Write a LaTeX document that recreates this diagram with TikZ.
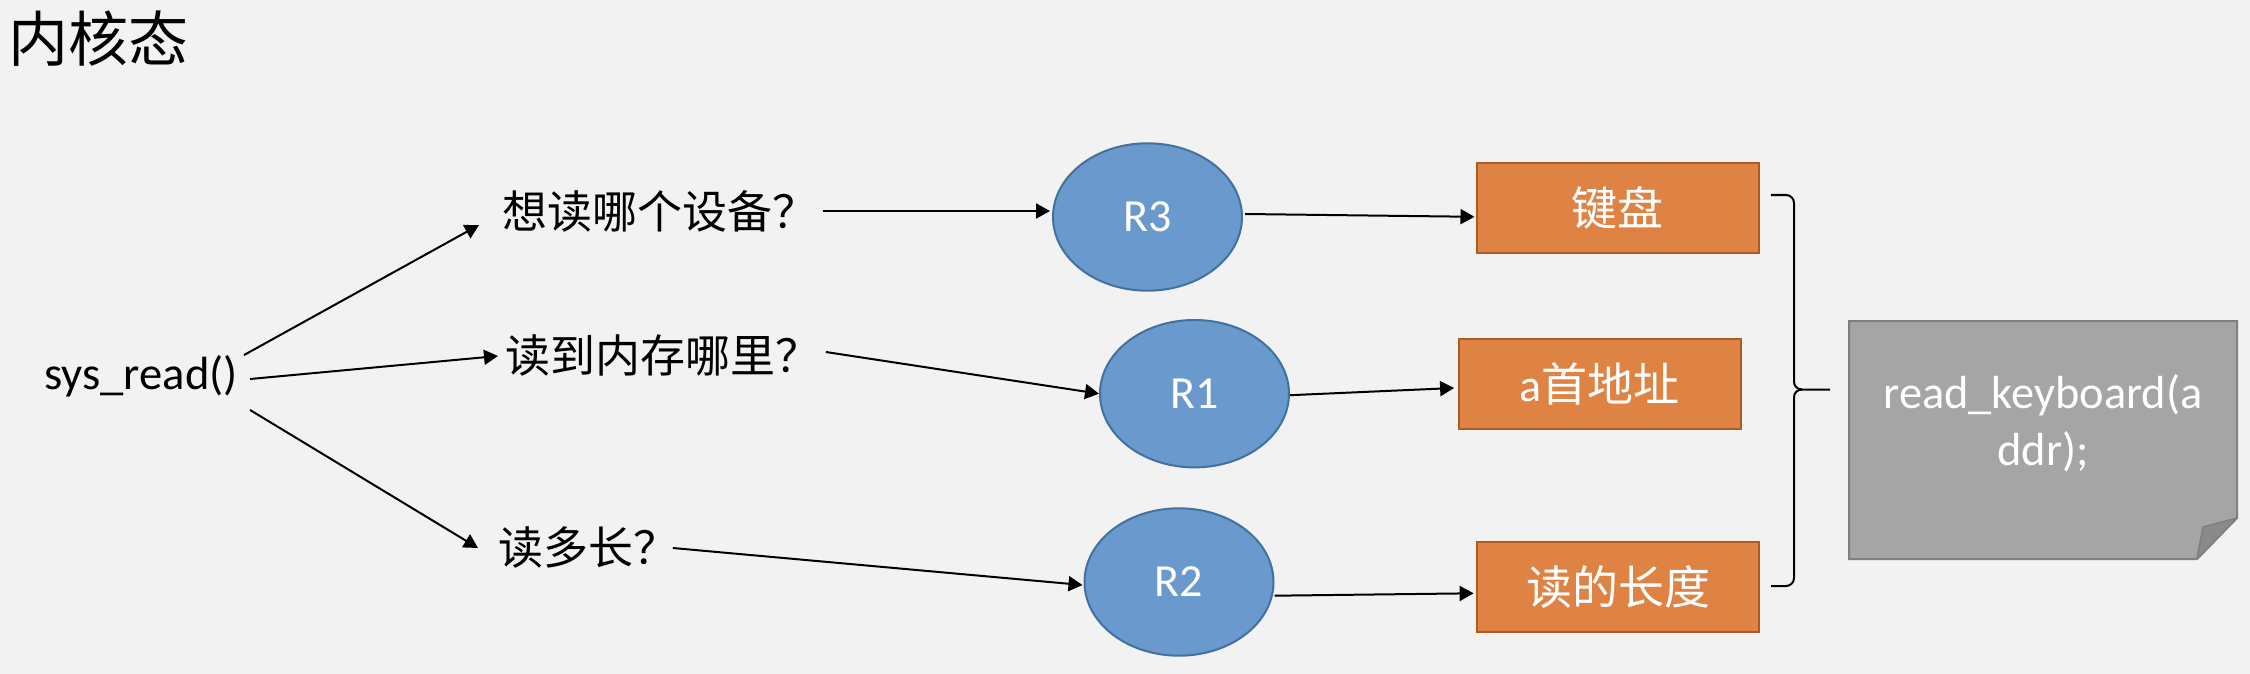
\documentclass[tikz,border=0pt]{standalone}
\usepackage{fontspec}
\setmainfont{Carlito}
\newfontfamily\cjk{Noto Sans CJK SC}
\usetikzlibrary{shapes.geometric,arrows.meta,calc}
\definecolor{bgc}{HTML}{F2F2F2}
\definecolor{cfill}{HTML}{6A99CE}
\definecolor{cdraw}{HTML}{41719C}
\definecolor{bfill}{HTML}{DF8344}
\definecolor{bdraw}{HTML}{AE5A21}
\definecolor{nfill}{HTML}{A5A5A5}
\definecolor{ndraw}{HTML}{7F7F7F}
\definecolor{nfold}{HTML}{8A8A8A}
\begin{document}
\begin{tikzpicture}[x=0.5pt,y=-0.5pt,
  arr/.style={line width=1pt,-{Triangle[length=7pt,width=7.5pt]}},
  reg/.style={ellipse,draw=cdraw,fill=cfill,line width=1pt,minimum width=94.5pt,minimum height=73.7pt,inner sep=0pt,text=white,font=\fontsize{23}{27}\selectfont},
  val/.style={rectangle,draw=bdraw,fill=bfill,line width=1pt,minimum width=141pt,minimum height=45pt,inner sep=0pt,text=white,font=\cjk\fontsize{23}{27}\selectfont},
  ques/.style={inner sep=0pt,font=\cjk\fontsize{22.5}{27}\selectfont},
  brace/.style={line width=1pt,line join=round}]
\fill[bgc] (0,0) rectangle (2250,674);
\useasboundingbox (0,0) rectangle (2250,674);

\node[inner sep=0pt,anchor=west,font=\cjk\fontsize{30}{36}\selectfont] (title) at (8,39) {内核态};

\node[inner xsep=6pt,inner ysep=0pt,font=\fontsize{23.3}{28}\selectfont] (sys) at (141,376) {sys\_read()};

\node[ques,anchor=west] (q1) at (502,211) {想读哪个设备？};
\node[ques,anchor=west] (q2) at (505,355.5) {读到内存哪里？};
\node[ques,anchor=west] (q3) at (498,547) {读多长？};

\node[reg] (r3) at (1147.5,217) {R3};
\node[reg] (r1) at (1194.5,393.7) {R1};
\node[reg] (r2) at (1179,582) {R2};

\node[val] (kb) at (1617.5,208.3) {键盘};
\node[val] (addr) at (1599.6,384) {{\rmfamily a}首地址};
\node[val] (len) at (1618.3,586.7) {读的长度};

% arrows
\draw[arr] ($(sys.east)+(-6,-21)$) -- ($(q1.west)+(-23,14)$);
\draw[arr] ($(sys.east)+(0,3)$) -- ($(q2.west)+(-7,0.5)$);
\draw[arr] ($(sys.east)+(0,34)$) -- ($(q3.west)+(-20,1)$);

\draw[arr] ($(q1.east)+(5,0)$) -- ($(r3.west)+(-2,-6)$);
\draw[arr] ($(q2.east)+(5,-3.5)$) -- (r1.west);
\draw[arr] ($(q3.east)+(-6,1)$) -- ($(r2.west)+(-1,3)$);

\draw[arr] ($(r3.east)+(2,-3)$) -- ($(kb.west)+(-1,8.5)$);
\draw[arr] ($(r1.east)+(0,1.5)$) -- ($(addr.west)+(-3.5,4)$);
\draw[arr] ($(r2.east)+(0,13.7)$) -- ($(len.west)+(-2.7,6.6)$);

% brace
\draw[brace] (1771,195) -- (1786,195) to[out=0,in=90] (1794,203) -- (1794,382) to[out=-90,in=180] (1802,389.5) -- (1830,389.5);
\draw[brace] (1802,389.5) to[out=180,in=90] (1794,397) -- (1794,578) to[out=-90,in=0] (1786,586) -- (1771,586);

% note
\draw[draw=ndraw,fill=nfill,line width=1pt] (1849,321) -- (2237,321) -- (2237,518) -- (2197,559) -- (1849,559) -- cycle;
\draw[draw=ndraw,fill=nfold,line width=0.8pt,line join=round] (2197,559) -- (2203,527) -- (2237,518) -- cycle;
\node[text=white,align=center,inner sep=0pt,font=\fontsize{23.2}{28.35}\selectfont] (note) at (2043,423) {read\_keyboard(a\\ddr);};
\end{tikzpicture}
\end{document}
